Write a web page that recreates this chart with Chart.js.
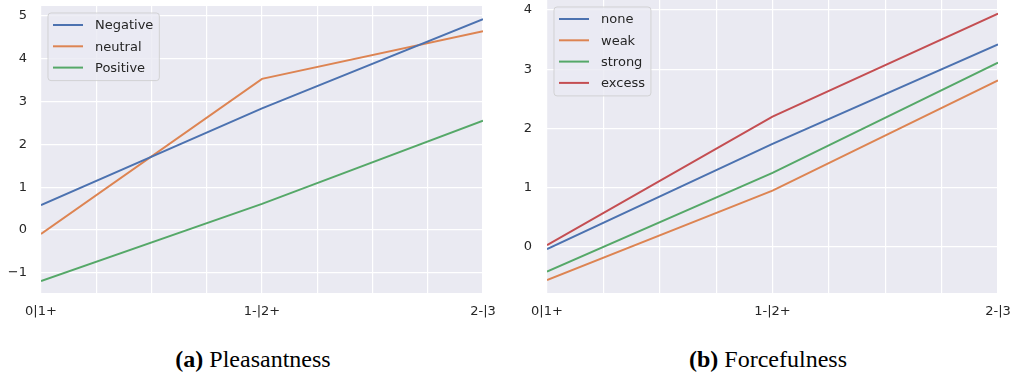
<!DOCTYPE html>
<html>
<head>
<meta charset="utf-8">
<script src="https://cdn.jsdelivr.net/npm/chart.js@4"></script>
<style>
  html, body { margin: 0; padding: 0; background: #ffffff; }
  body { width: 1018px; height: 378px; position: relative; overflow: hidden; }
  .wrap { position: absolute; top: 0; }
  .cap { position: absolute; top: 347px; width: 240px; text-align: center;
         font-family: "Liberation Serif", "DejaVu Serif", serif; font-size: 24px;
         line-height: 24px; color: #000; white-space: nowrap; }
  .cap b { font-weight: bold; }
</style>
</head>
<body>
<div class="wrap" style="left:0;width:500px;height:330px;"><canvas id="c1"></canvas></div>
<div class="wrap" style="left:505px;width:513px;height:330px;"><canvas id="c2"></canvas></div>
<div class="cap" style="left:133px;"><b>(a)</b> Pleasantness</div>
<div class="cap" style="left:648px;"><b>(b)</b> Forcefulness</div>
<script>
// ---- data ----
const xPositions = [0, 1, 2];
const xTickLabels = ['0|1+', '1-|2+', '2-|3'];

const pleasLabels = ['Negative', 'neutral', 'Positive'];
const pleasNegative = [0.58, 2.84, 4.92];
const pleasNeutral  = [-0.09, 3.53, 4.64];
const pleasPositive = [-1.19, 0.61, 2.55];

const forceLabels = ['none', 'weak', 'strong', 'excess'];
const forceNone   = [-0.04, 1.74, 3.42];
const forceWeak   = [-0.56, 0.95, 2.81];
const forceStrong = [-0.42, 1.25, 3.11];
const forceExcess = [0.03, 2.20, 3.94];

// ---- styles ----
const COLORS = ['#4c72b0', '#dd8452', '#55a868', '#c44e52'];
const TEXT = '#262626';
const FONT = '"DejaVu Sans", "Noto Sans CJK JP", sans-serif';
const FSIZE = 13;

function pts(ys) { return ys.map((y, i) => ({ x: xPositions[i], y: y })); }

const bgPlugin = {
  id: 'bg',
  beforeDraw(chart) {
    const a = chart.chartArea, ctx = chart.ctx;
    ctx.save();
    ctx.fillStyle = '#eaeaf2';
    ctx.fillRect(a.left, a.top, a.right - a.left, a.bottom - a.top);
    ctx.restore();
  }
};

const legendPlugin = {
  id: 'boxLegend',
  afterDatasetsDraw(chart) {
    const ctx = chart.ctx, a = chart.chartArea;
    const ds = chart.data.datasets;
    ctx.save();
    ctx.font = FSIZE + 'px ' + FONT;
    let maxW = 0;
    ds.forEach(d => { maxW = Math.max(maxW, ctx.measureText(d.label).width); });
    const x0 = a.left + 7, y0 = a.top + 7;
    const rowH = 21.3;
    const w = 5 + 30 + 12 + maxW + 6;
    const h = 12 + (ds.length - 1) * rowH + 13;
    const r = 3;
    ctx.beginPath();
    ctx.moveTo(x0 + r, y0);
    ctx.arcTo(x0 + w, y0, x0 + w, y0 + h, r);
    ctx.arcTo(x0 + w, y0 + h, x0, y0 + h, r);
    ctx.arcTo(x0, y0 + h, x0, y0, r);
    ctx.arcTo(x0, y0, x0 + w, y0, r);
    ctx.closePath();
    ctx.fillStyle = 'rgba(234,234,242,0.8)';
    ctx.fill();
    ctx.strokeStyle = 'rgba(204,204,204,0.8)';
    ctx.lineWidth = 1;
    ctx.stroke();
    ds.forEach((d, i) => {
      const y = y0 + 12 + i * rowH;
      ctx.beginPath();
      ctx.moveTo(x0 + 5, y);
      ctx.lineTo(x0 + 35, y);
      ctx.strokeStyle = d.borderColor;
      ctx.lineWidth = 2;
      ctx.stroke();
      ctx.fillStyle = TEXT;
      ctx.textBaseline = 'middle';
      ctx.textAlign = 'left';
      ctx.fillText(d.label, x0 + 47, y + 1);
    });
    ctx.restore();
  }
};

function makeChart(id, labels, series, yMin, yMax, yAxisW, padTop, padRight) {
  return new Chart(document.getElementById(id), {
    type: 'line',
    data: {
      datasets: series.map((s, i) => ({
        label: labels[i],
        data: pts(s),
        borderColor: COLORS[i],
        backgroundColor: COLORS[i],
        borderWidth: 2,
        pointRadius: 0,
        tension: 0,
        fill: false
      }))
    },
    options: {
      responsive: true,
      maintainAspectRatio: false,
      animation: false,
      events: [],
      layout: { padding: { left: 0, right: padRight, top: padTop, bottom: 0 } },
      plugins: { legend: { display: false }, tooltip: { enabled: false } },
      scales: {
        x: {
          type: 'linear',
          min: 0, max: 2,
          border: { display: false },
          grid: { color: '#ffffff', lineWidth: 1.2, drawTicks: false },
          ticks: {
            stepSize: 0.25,
            autoSkip: false,
            maxRotation: 0,
            padding: 11,
            color: TEXT,
            font: { family: FONT, size: FSIZE },
            callback: (v) => (Math.abs(v - Math.round(v)) < 1e-9 ? xTickLabels[Math.round(v)] : '')
          },
          afterFit: (s) => { s.height = 37; s.paddingLeft = 0; s.paddingRight = 0; }
        },
        y: {
          min: yMin, max: yMax,
          border: { display: false },
          grid: { color: '#ffffff', lineWidth: 1.2, drawTicks: false },
          ticks: {
            stepSize: 1,
            includeBounds: false,
            padding: yAxisW === 41 ? 14 : 15,
            color: TEXT,
            font: { family: FONT, size: FSIZE },
            callback: (v) => (v < 0 ? '\u2212' + Math.abs(v) : String(v))
          },
          afterFit: (s) => { s.width = yAxisW; s.paddingTop = 0; s.paddingBottom = 0; }
        }
      }
    },
    plugins: [bgPlugin, legendPlugin]
  });
}

makeChart('c1', pleasLabels, [pleasNegative, pleasNeutral, pleasPositive], -1.47, 5.23, 41, 6, 17);
makeChart('c2', forceLabels, [forceNone, forceWeak, forceStrong, forceExcess], -0.78, 4.17, 42, 0, 20);
</script>
</body>
</html>
